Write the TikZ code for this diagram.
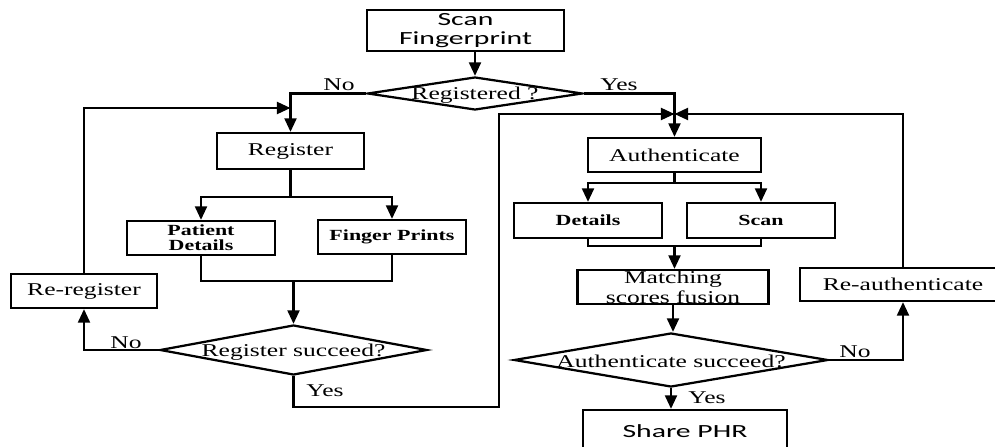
\documentclass[tikz,border=0pt]{standalone}
\usepackage{fontspec}
\setmainfont{Liberation Serif}[FakeStretch=1.42]
\newfontfamily\sansfnt{Carlito}[FakeStretch=1.6]
\usetikzlibrary{arrows.meta,shapes.geometric}
\tikzset{
	line/.style={line width=1.6pt},
	arr/.style={line, -{Triangle[length=0.34cm,width=0.3cm]}},
	box/.style={draw, line width=1.6pt, inner sep=0pt, align=center, font=\fontsize{12.8}{14}\selectfont},
	bbox/.style={box, font=\fontsize{11}{10.5}\selectfont\bfseries},
	sbox/.style={box, font=\fontsize{13.2}{13}\selectfont\sansfnt},
	dec/.style={diamond, draw, line width=1.6pt, inner sep=0pt},
	txt/.style={inner sep=0pt, font=\fontsize{12.8}{14}\selectfont},
}

\begin{document}
\begin{tikzpicture}[x=0.025cm, y=-0.025cm]
			%%%%% START %%%%%
			\useasboundingbox (0,0) rectangle (995,447);
			\fill[white] (0,0) rectangle (995,447);
			\clip (0,0) rectangle (995,447);
			
			% top
			\node[sbox, minimum width=4.925cm, minimum height=1.025cm] (scan) at (465.5,30.5) {Scan\\Fingerprint};
			\node[dec, minimum width=5.375cm, minimum height=0.825cm] (regd) at (475,93.5) {};
			\node[txt] (tregd) at (475,95) {Registered ?};
			
			% register side
			\node[box, minimum width=3.675cm, minimum height=0.9cm] (register) at (290.5,151) {Register};
			\node[bbox, minimum width=3.7cm, minimum height=0.85cm] (patient) at (201,238) {Patient\\Details};
			\node[bbox, minimum width=3.7cm, minimum height=0.85cm] (fprints) at (392,237) {Finger Prints};
			\node[dec, minimum width=6.675cm, minimum height=1.25cm] (rs) at (293.5,350) {};
			\node[txt] (trs) at (293.5,352) {Register succeed?};
			\node[box, minimum width=3.65cm, minimum height=0.85cm] (rereg) at (84,291) {Re-register};
			
			% authenticate side
			\node[box, minimum width=4.325cm, minimum height=0.85cm] (auth) at (674.5,155) {Authenticate};
			\node[bbox, minimum width=3.7cm, minimum height=0.875cm] (details) at (588,220.5) {Details};
			\node[bbox, minimum width=3.7cm, minimum height=0.875cm] (scanb) at (761,220.5) {Scan};
			\node[box, minimum width=4.775cm, minimum height=0.85cm] (matching) at (673,287) {Matching\\scores fusion};
			\node[dec, minimum width=7.85cm, minimum height=1.35cm] (as) at (671,360) {};
			\node[txt] (tas) at (671,361) {Authenticate succeed?};
			\node[box, minimum width=5.15cm, minimum height=0.825cm] (reauth) at (903,284.5) {Re-authenticate};
			\node[sbox, minimum width=5.1cm, minimum height=1.05cm] (share) at (685,431) {Share PHR};
			
			% labels
			\node[txt] (lno1) at (339,85) {No};
			\node[txt] (lyes1) at (619,85) {Yes};
			\node[txt] (lno2) at (126,343) {No};
			\node[txt] (lyes2) at (325,391) {Yes};
			\node[txt] (lno3) at (855,352) {No};
			\node[txt] (lyes3) at (707,398) {Yes};
			
			% junctions
			\coordinate (jn) at (674.5,114);
			\coordinate (rl) at (290.5,108);
			\coordinate (rsplit) at (290.5,197);
			\coordinate (rjoin) at (293.5,281);
			\coordinate (lp) at (499,407);
			\coordinate (asplit) at (674.5,183);
			\coordinate (ajoin) at (674.5,246);
			
			% connectors
			\draw[arr] (regd.north |- scan.south) -- (regd.north);
			\draw[arr] (regd.west) -| (register.north);
			\draw[arr] (regd.east) -| (auth.north);
			\draw[arr] (rereg.north) |- (rl);
			\draw[line] (register.south) -- (rsplit);
			\draw[arr] (rsplit) -| (patient.north);
			\draw[arr] (rsplit) -| (fprints.north);
			\draw[line] (patient.south) |- (rjoin) -| (fprints.south);
			\draw[arr] (rjoin) -- (rs.north);
			\draw[arr] (rs.west) -| (rereg.south);
			\draw[arr] (rs.south) |- (lp) |- (jn);
			\draw[arr] (reauth.north) |- (jn);
			\draw[line] (auth.south) -- (asplit);
			\draw[arr] (asplit) -| (details.north);
			\draw[arr] (asplit) -| (scanb.north);
			\draw[line] (details.south) |- (ajoin) -| (scanb.south);
			\draw[arr] (ajoin) -- (ajoin |- matching.north);
			\draw[arr] (matching.south) -- (matching.south |- as.north);
			\draw[arr] (as.south) -- (as.south |- share.north);
			\draw[arr] (as.east) -| (reauth.south);
			%%%%% END %%%%%
\end{tikzpicture}
\end{document}
